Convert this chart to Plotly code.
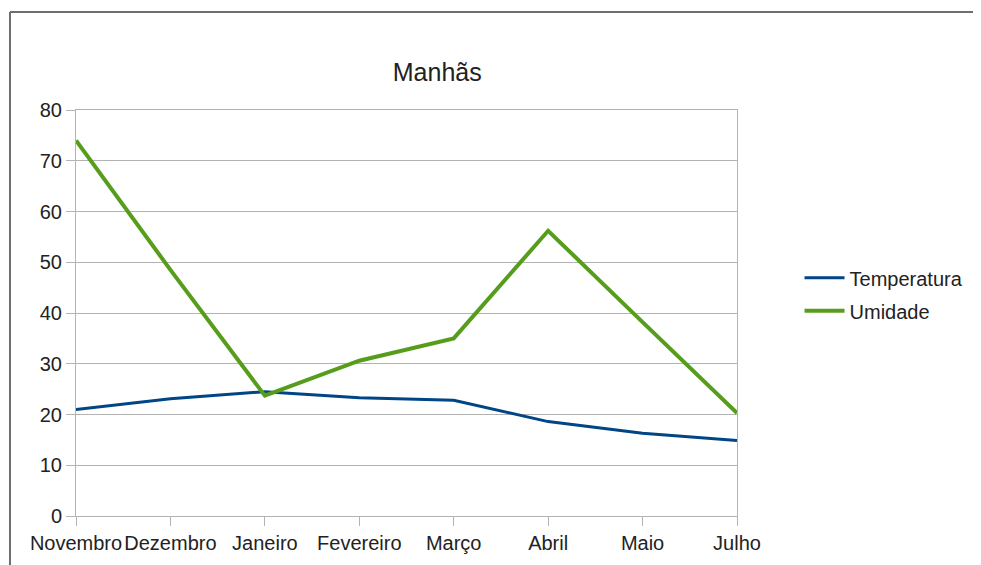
import plotly.graph_objects as go

months = ["Novembro", "Dezembro", "Janeiro", "Fevereiro", "Março", "Abril", "Maio", "Julho"]
temperatura = [21.0, 23.1, 24.5, 23.3, 22.8, 18.6, 16.3, 14.9]
umidade = [74.0, 48.5, 23.7, 30.6, 35.0, 56.2, 38.2, 20.3]
y_ticks = [0, 10, 20, 30, 40, 50, 60, 70, 80]

OFF = 8  # page body margin
W, H = 981 - OFF, 565 - OFF
L, R, T, B = 76 - OFF, 742 - OFF, 109.6 - OFF, 516 - OFF
pw, ph = R - L, B - T

def px(x):
    return (x - OFF - L) / pw

def py(y):
    return (B - (y - OFF)) / ph

font = "Liberation Sans, Arial, sans-serif"
grid = "#b3b3b3"
txt = "#222222"

fig = go.Figure()
fig.add_trace(go.Scatter(x=months, y=temperatura, name="Temperatura", mode="lines",
                         legendgroup="t", line=dict(color="#004586", width=3)))
fig.add_trace(go.Scatter(x=months, y=umidade, name="Umidade", mode="lines",
                         legendgroup="u", line=dict(color="#579d1c", width=4)))

fig.update_layout(
    width=W, height=H,
    margin=dict(l=L, r=W - R, t=T, b=H - B, pad=0),
    paper_bgcolor="white", plot_bgcolor="white",
    font=dict(family=font, size=20, color=txt),
    title=dict(text="Manhãs", x=px(440), xref="paper", xanchor="center",
               y=1 - (72 - OFF) / H, yref="container", yanchor="middle",
               font=dict(family=font, size=25, color=txt)),
    showlegend=True,
    legend=dict(x=px(805), xanchor="left", y=py(294), yanchor="middle",
                font=dict(family=font, size=20, color=txt),
                bgcolor="rgba(0,0,0,0)", itemwidth=40,
                traceorder="grouped", tracegroupgap=4),
    xaxis=dict(type="category", range=[0, len(months) - 1], showgrid=False,
               showline=True, linecolor=grid, linewidth=1, mirror=True,
               ticks="outside", ticklen=9, tickcolor=grid, tickangle=0,
               tickfont=dict(family=font, size=20, color=txt),
               fixedrange=True),
    yaxis=dict(range=[0, 80], tickvals=y_ticks, showgrid=True, gridcolor=grid,
               gridwidth=1, zeroline=False, showline=True, linecolor=grid,
               linewidth=1, mirror=True, ticks="outside", ticklen=9,
               tickcolor=grid, tickfont=dict(family=font, size=20, color=txt)),
)

# outer border of the picture (left and top edges)
fig.add_shape(type="line", xref="paper", yref="paper",
              x0=px(9.5), x1=px(9.5), y0=py(11.5), y1=py(H + 20),
              line=dict(color="#6e6e6e", width=2))
fig.add_shape(type="line", xref="paper", yref="paper",
              x0=px(9.5), x1=px(W + 20), y0=py(11.5), y1=py(11.5),
              line=dict(color="#6e6e6e", width=2))

fig.write_html("out.html")
